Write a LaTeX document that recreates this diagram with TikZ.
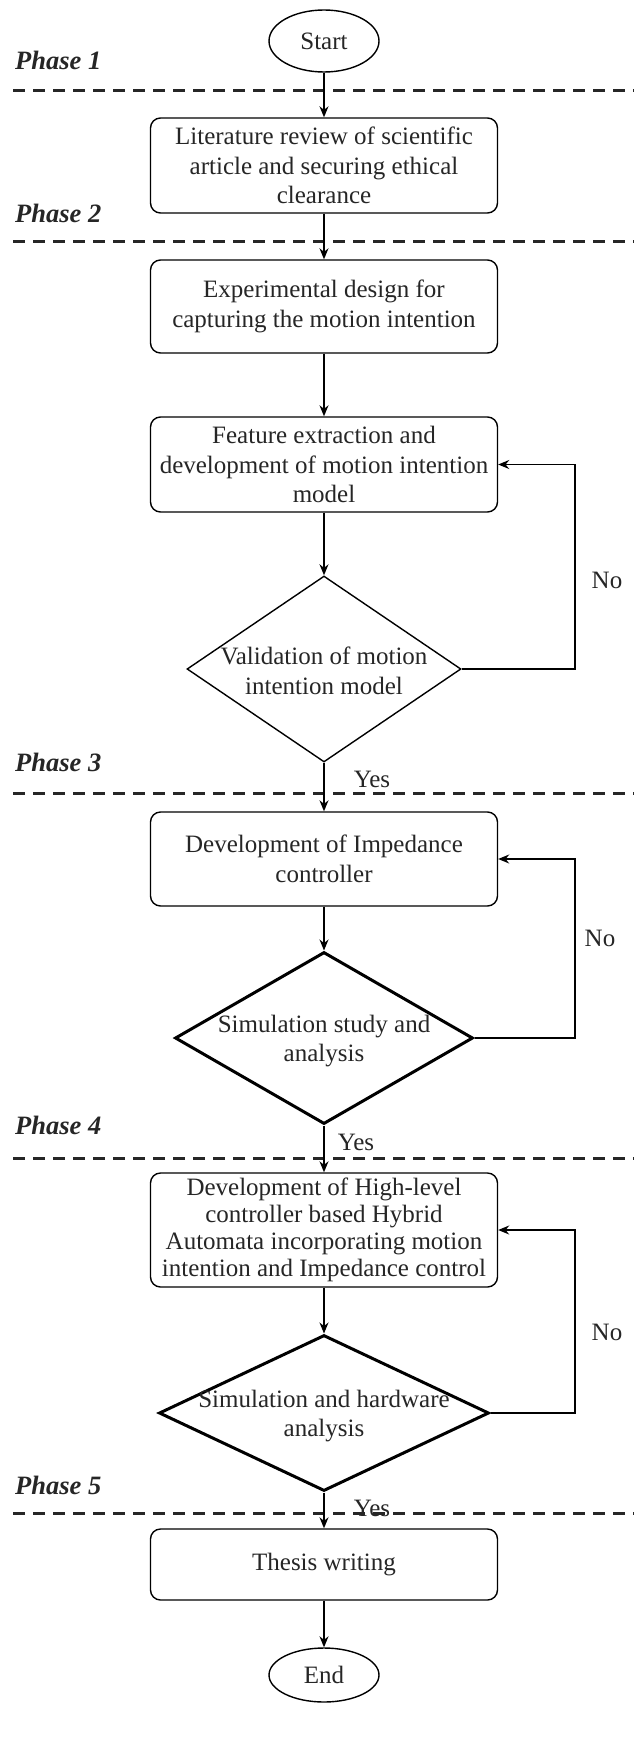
\documentclass[tikz,border=0pt]{standalone}
\usepackage{fontspec}
\setmainfont{Liberation Serif}
\usetikzlibrary{shapes.geometric,arrows.meta}
\begin{document}
\begin{tikzpicture}[x=1pt,y=-1pt,
  every node/.style={font=\fontsize{25}{29.5}\selectfont, text=black!85},
  proc/.style={draw, rounded corners=10pt, line width=1.4pt, minimum width=347pt, align=center, inner sep=0pt},
  term/.style={draw, ellipse, line width=1.4pt, minimum width=110pt, inner sep=0pt},
  dec/.style={draw, diamond, line width=1.4pt, inner sep=0pt},
  thickdec/.style={dec, line width=3pt},
  dtext/.style={align=center, inner sep=0pt},
  conn/.style={line width=1.4pt, -{Stealth[length=11pt,width=9pt]}},
  phase/.style={font=\fontsize{26.5}{30}\selectfont\bfseries\itshape, anchor=west, inner sep=0pt},
  divider/.style={line width=3pt, dash pattern=on 12pt off 8pt, draw=black!85},
  lbl/.style={inner sep=0pt}
]
\useasboundingbox[fill=white] (0,0) rectangle (634,1758);

% dividers
\draw[divider] (13,91) -- (634,91);
\draw[divider] (13,241) -- (634,241);
\draw[divider] (13,793) -- (634,793);
\draw[divider] (13,1158) -- (634,1158);
\draw[divider] (13,1513) -- (634,1513);

% phase labels
\node[phase] (p1) at (15,60) {Phase 1};
\node[phase] (p2) at (15,213) {Phase 2};
\node[phase] (p3) at (15,762) {Phase 3};
\node[phase] (p4) at (15,1125) {Phase 4};
\node[phase] (p5) at (15,1485) {Phase 5};

% nodes
\node[term, minimum height=62pt] (start) at (324,41) {Start};
\node[proc, minimum height=95pt] (b1) at (324,165.5) {Literature review of scientific\\article and securing ethical\\clearance};
\node[proc, minimum height=93pt] (b2) at (324,306.5) {Experimental design for\\capturing the motion intention};
\node[proc, minimum height=95pt] (b3) at (324,464.5) {Feature extraction and\\development of motion intention\\model};
\node[dec, minimum width=274pt, minimum height=186pt] (d1) at (324,669) {};
\node[dtext] (d1t) at (324,671) {Validation of motion\\intention model};
\node[proc, minimum height=94pt] (b4) at (324,859) {Development of Impedance\\controller};
\node[thickdec, minimum width=298pt, minimum height=172pt] (d2) at (324,1038) {};
\node[dtext] (d2t) at (324,1041) {Simulation study and\\analysis};
\node[proc, minimum height=114pt, font=\fontsize{25}{27}\selectfont] (b5) at (324,1230) {Development of High-level\\controller based Hybrid\\Automata incorporating motion\\intention and Impedance control};
\node[thickdec, minimum width=330pt, minimum height=156pt] (d3) at (324,1413) {};
\node[dtext] (d3t) at (324,1416) {Simulation and hardware\\analysis};
\node[proc, minimum height=71pt] (b6) at (324,1564.5) {Thesis writing};
\node[term, minimum height=54pt] (end) at (324,1675) {End};

\coordinate (loopx) at (575,0);

% connectors
\draw[conn] (start) -- (b1);
\draw[conn] (b1) -- (b2);
\draw[conn] (b2) -- (b3);
\draw[conn] (b3) -- (d1);
\draw[conn] (d1) -- (b4);
\draw[conn] (d1.east) -| (loopx |- b3.east) -- (b3.east);
\draw[conn] (b4) -- (d2);
\draw[conn] (d2) -- (b5);
\draw[conn] (d2.east) -| (loopx |- b4.east) -- (b4.east);
\draw[conn] (b5) -- (d3);
\draw[conn] (d3) -- (b6);
\draw[conn] (d3.east) -| (loopx |- b5.east) -- (b5.east);
\draw[conn] (b6) -- (end);

% labels
\node[lbl] (no1) at (607,580) {No};
\node[lbl] (no2) at (600,938) {No};
\node[lbl] (no3) at (607,1332) {No};
\node[lbl] (yes1) at (372,779) {Yes};
\node[lbl] (yes2) at (356,1142) {Yes};
\node[lbl] (yes3) at (372,1508) {Yes};
\end{tikzpicture}
\end{document}
